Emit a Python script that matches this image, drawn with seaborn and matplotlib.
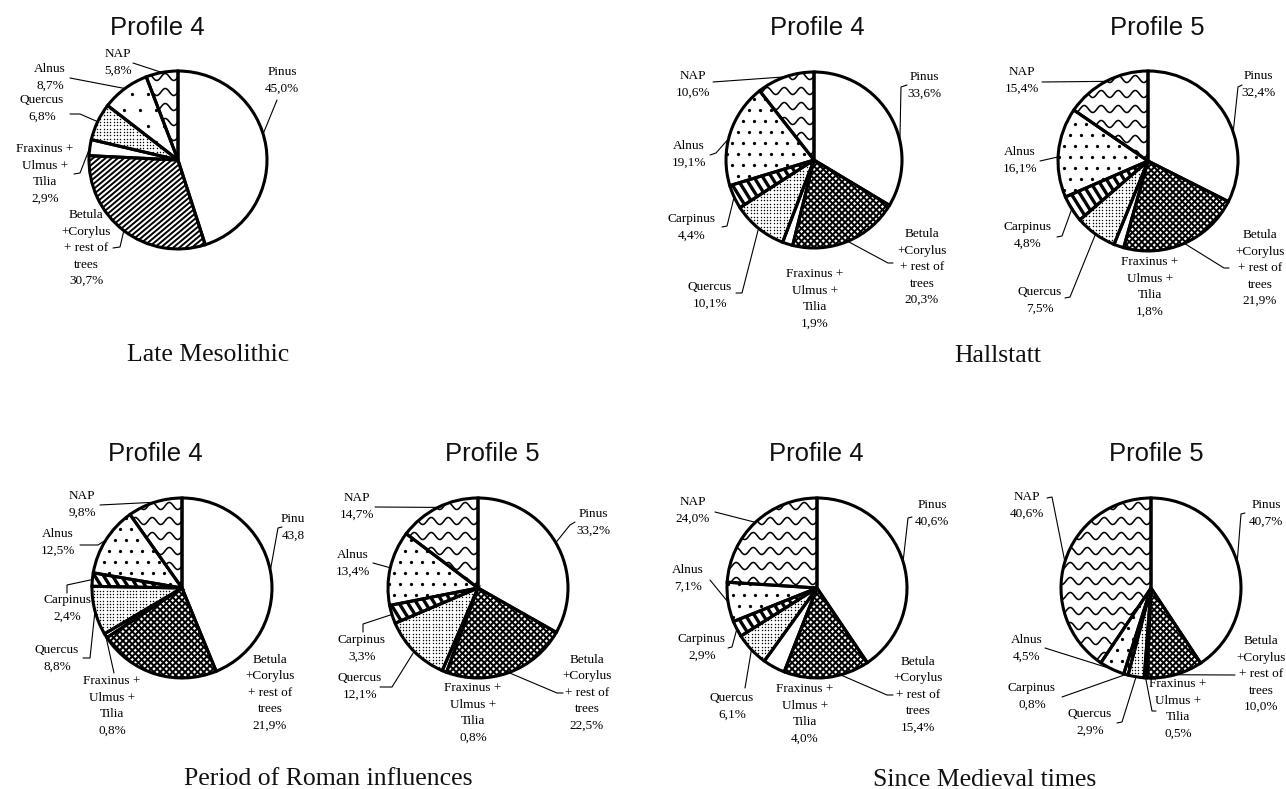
import numpy as np
import matplotlib
matplotlib.use("Agg")
import matplotlib.pyplot as plt
import seaborn as sns
from matplotlib.collections import LineCollection

# ---------------- data ----------------
taxa = ["Pinus", "Betula", "Fraxinus", "Quercus", "Carpinus", "Alnus", "NAP"]
meso_taxa = ["Pinus", "Betula", "Fraxinus", "Quercus", "Alnus", "NAP"]

meso_p4 = [45.0, 30.7, 2.9, 6.8, 8.7, 5.8]
hall_p4 = [33.6, 20.3, 1.9, 10.1, 4.4, 19.1, 10.6]
hall_p5 = [32.4, 21.9, 1.8, 7.5, 4.8, 16.1, 15.4]
roman_p4 = [43.8, 21.9, 0.8, 8.8, 2.4, 12.5, 9.8]
roman_p5 = [33.2, 22.5, 0.8, 12.1, 3.3, 13.4, 14.7]
medieval_p4 = [40.6, 15.4, 4.0, 6.1, 2.9, 7.1, 24.0]
medieval_p5 = [40.7, 10.0, 0.5, 2.9, 0.8, 4.5, 40.6]

label_names = {
    "Pinus": "Pinus",
    "Betula": "Betula\n+Corylus\n+ rest of\ntrees",
    "Fraxinus": "Fraxinus +\nUlmus +\nTilia",
    "Quercus": "Quercus",
    "Carpinus": "Carpinus",
    "Alnus": "Alnus",
    "NAP": "NAP",
}
profiles = ["Profile 4", "Profile 5"]
periods = ["Late Mesolithic", "Hallstatt", "Period of Roman influences", "Since Medieval times"]

# ---------------- styles / layout (pixel coordinates, y downwards) ----------------
textures = {"Pinus": "none", "Betula": "cross", "Fraxinus": "none", "Quercus": "fine",
            "Carpinus": "stripes", "Alnus": "dots", "NAP": "waves"}

pies = [
    dict(values=meso_p4, taxa=meso_taxa, center=(178, 160), r=89, title=profiles[0], title_xy=(157, 28),
         meso=True,
         labels={"Pinus": dict(xy=(282, 80), path=[(277, 100)], f=0.45),
                 "Betula": dict(xy=(86, 248), path=[(113, 248), (120, 247)]),
                 "Fraxinus": dict(xy=(45, 174), path=[(74, 174), (80, 173)]),
                 "Quercus": dict(xy=(42, 108), path=[(70, 114), (80, 114)]),
                 "Alnus": dict(xy=(50, 77), path=[(70, 78)]),
                 "NAP": dict(xy=(118, 62), path=[(133, 63)])}),
    dict(values=hall_p4, taxa=taxa, center=(814, 160), r=88, title=profiles[0], title_xy=(817, 28),
         labels={"Pinus": dict(xy=(924, 85), path=[(907, 85), (901, 87)], f=0.64),
                 "Betula": dict(xy=(922, 267), path=[(893, 263), (888, 263)]),
                 "Fraxinus": dict(xy=(815, 299), path=[]),
                 "Quercus": dict(xy=(710, 295), path=[(736, 293), (742, 293)]),
                 "Carpinus": dict(xy=(692, 227), path=[(722, 227), (727, 226)]),
                 "Alnus": dict(xy=(689, 154), path=[(710, 155), (716, 153)], f=0.45),
                 "NAP": dict(xy=(693, 84), path=[(713, 82)])}),
    dict(values=hall_p5, taxa=taxa, center=(1148, 161), r=90, title=profiles[1], title_xy=(1157, 28),
         labels={"Pinus": dict(xy=(1258, 84), path=[(1242, 85), (1238, 87)], f=0.61),
                 "Betula": dict(xy=(1260, 268), path=[(1229, 268), (1224, 268)]),
                 "Fraxinus": dict(xy=(1150, 287), path=[]),
                 "Quercus": dict(xy=(1040, 300), path=[(1065, 298), (1070, 297)]),
                 "Carpinus": dict(xy=(1028, 235), path=[(1057, 237), (1062, 236)]),
                 "Alnus": dict(xy=(1020, 160), path=[(1040, 161)], f=0.45),
                 "NAP": dict(xy=(1022, 80), path=[(1042, 82)])}),
    dict(values=roman_p4, taxa=taxa, center=(182, 588), r=90, title=profiles[0], title_xy=(155, 454),
         labels={"Pinus": dict(xy=(293, 527), path=[(282, 527), (278, 528)], text="Pinu\n43,8"),
                 "Betula": dict(xy=(270, 693), path=[]),
                 "Fraxinus": dict(xy=(112, 706), path=[(114, 673)]),
                 "Quercus": dict(xy=(57, 658), path=[(83, 658), (90, 658)]),
                 "Carpinus": dict(xy=(67, 608), path=[(67, 593), (67, 585)]),
                 "Alnus": dict(xy=(58, 542), path=[(80, 545), (98, 545)]),
                 "NAP": dict(xy=(82, 504), path=[(100, 505)])}),
    dict(values=roman_p5, taxa=taxa, center=(478, 588), r=90, title=profiles[1], title_xy=(492, 454),
         labels={"Pinus": dict(xy=(593, 522), path=[(575, 522), (570, 525)]),
                 "Betula": dict(xy=(587, 693), path=[(563, 693), (557, 693)]),
                 "Fraxinus": dict(xy=(473, 713), path=[]),
                 "Quercus": dict(xy=(360, 686), path=[(380, 687), (392, 687)]),
                 "Carpinus": dict(xy=(362, 648), path=[(363, 632), (363, 624)]),
                 "Alnus": dict(xy=(353, 563), path=[(373, 563)]),
                 "NAP": dict(xy=(357, 506), path=[(375, 507)])}),
    dict(values=medieval_p4, taxa=taxa, center=(817, 588), r=90, title=profiles[0], title_xy=(816, 454),
         labels={"Pinus": dict(xy=(932, 513), path=[(912, 517), (908, 518)]),
                 "Betula": dict(xy=(918, 695), path=[(893, 695), (887, 695)], f=0.34),
                 "Fraxinus": dict(xy=(805, 714), path=[]),
                 "Quercus": dict(xy=(732, 706), path=[(745, 688)]),
                 "Carpinus": dict(xy=(702, 647), path=[(728, 648), (732, 647)]),
                 "Alnus": dict(xy=(688, 578), path=[(710, 580)]),
                 "NAP": dict(xy=(693, 510), path=[(715, 512)])}),
    dict(values=medieval_p5, taxa=taxa, center=(1151, 588), r=90, title=profiles[1], title_xy=(1156, 454),
         labels={"Pinus": dict(xy=(1266, 513), path=[(1245, 513), (1241, 514)]),
                 "Betula": dict(xy=(1261, 674), path=[(1235, 675)]),
                 "Fraxinus": dict(xy=(1178, 709), path=[(1156, 711), (1152, 711)]),
                 "Quercus": dict(xy=(1090, 722), path=[(1117, 723), (1122, 722)]),
                 "Carpinus": dict(xy=(1032, 696), path=[(1062, 697)]),
                 "Alnus": dict(xy=(1027, 648), path=[(1045, 648)]),
                 "NAP": dict(xy=(1027, 505), path=[(1047, 498), (1052, 497)])}),
]
period_xy = [(208, 355), (998, 356), (328, 779), (985, 780)]

W, H = 1286, 789


def Y(y):
    return H - y


# ---------------- drawing ----------------
sns.set_theme(style="white")
plt.rcParams["font.family"] = ["Liberation Serif", "DejaVu Serif"]

fig = plt.figure(figsize=(W / 100, H / 100), dpi=100)
fig.patch.set_facecolor("white")
ax = fig.add_axes([0, 0, 1, 1])


def add_texture(wedge, kind, cx, cy, r, meso):
    if kind == "none":
        return
    if kind == "cross" and meso:
        kind = "diag"
    if kind in ("cross", "diag", "stripes"):
        fams = {"cross": [(45, 4.4, 1.45), (-45, 4.4, 1.45)],
                "diag": [(40, 4.0, 1.4)],
                "stripes": [(-58, 7.5, 2.4)]}[kind]
        R = r + 10
        for ang, sp, lw in fams:
            t = np.array([np.cos(np.radians(ang)), np.sin(np.radians(ang))])
            n = np.array([-t[1], t[0]])
            ks = np.arange(-int(R / sp) - 1, int(R / sp) + 2)
            segs = [[(cx + k * sp * n[0] - R * t[0], cy + k * sp * n[1] - R * t[1]),
                     (cx + k * sp * n[0] + R * t[0], cy + k * sp * n[1] + R * t[1])] for k in ks]
            lc = LineCollection(segs, colors="black", linewidths=lw, zorder=2)
            ax.add_collection(lc)
            lc.set_clip_path(wedge)
    elif kind == "waves":
        sp, lam, amp = 15.0, 17.0, 3.5
        xs = np.arange(cx - r - 5, cx + r + 5, 0.5)
        segs = []
        for y0 in np.arange(cy - r - 8, cy + r + 8, sp):
            ys = y0 + amp * np.sin(2 * np.pi * (xs - cx) / lam)
            segs.append(np.column_stack([xs, ys]))
        lc = LineCollection(segs, colors="black", linewidths=1.15, zorder=2)
        ax.add_collection(lc)
        lc.set_clip_path(wedge)
    elif kind in ("fine", "dots"):
        if kind == "fine":
            sp, s = 3.3, 1.1
        else:
            sp, s = (16.0 if meso else 11.0), 5.5
        pts = []
        for j, yy in enumerate(np.arange(cy - r - 5, cy + r + 5, sp)):
            off = (sp / 2) if (kind == "dots" and j % 2) else 0.0
            for xx in np.arange(cx - r - 5 + off, cx + r + 5, sp):
                pts.append((xx, yy))
        pts = np.array(pts)
        sc = ax.scatter(pts[:, 0], pts[:, 1], s=s, c="black", linewidths=0, zorder=2)
        sc.set_clip_path(wedge)


for p in pies:
    cx, cy = p["center"][0], Y(p["center"][1])
    r = p["r"]
    vals = p["values"]
    n = len(vals)
    fills, _ = ax.pie(vals, startangle=90, counterclock=False, center=(cx, cy), radius=r,
                      colors=["white"] * n,
                      wedgeprops=dict(edgecolor="none", linewidth=0, zorder=1))
    edges, _ = ax.pie(vals, startangle=90, counterclock=False, center=(cx, cy), radius=r,
                      wedgeprops=dict(fill=False, edgecolor="black", linewidth=2.2,
                                      joinstyle="miter", zorder=5))
    for w, name in zip(fills, p["taxa"]):
        add_texture(w, textures[name], cx, cy, r, p.get("meso", False))

    # labels + leader lines
    for w, name, v in zip(fills, p["taxa"], vals):
        spec = p["labels"][name]
        txt = spec.get("text", label_names[name] + "\n" + f"{v:.1f}".replace(".", ",") + "%")
        tx, ty = spec["xy"]
        ax.text(tx, Y(ty), txt, ha="center", va="center", multialignment="center",
                fontsize=9.5, family=["Liberation Serif", "DejaVu Serif"], linespacing=1.5,
                color="black", zorder=6)
        if spec["path"]:
            f = spec.get("f", 0.5)
            ang = np.radians(w.theta2 - f * (w.theta2 - w.theta1))
            ex, ey = cx + r * np.cos(ang), cy + r * np.sin(ang)
            xs = [q[0] for q in spec["path"]] + [ex]
            ys = [Y(q[1]) for q in spec["path"]] + [ey]
            ax.plot(xs, ys, color="black", lw=0.8, zorder=6, solid_joinstyle="miter")

    tx, ty = p["title_xy"]
    ax.text(tx, Y(ty), p["title"], ha="center", va="center", fontsize=18.5,
            family=["Liberation Sans", "DejaVu Sans"], color="#111111")

for name, (px, py) in zip(periods, period_xy):
    ax.text(px, Y(py), name, ha="center", va="center", fontsize=18.5,
            family=["Liberation Serif", "DejaVu Serif"], color="#111111")

ax.set_xlim(0, W)
ax.set_ylim(0, H)
ax.set_aspect("equal")
ax.axis("off")

fig.savefig("out.png", dpi=100, facecolor="white")
